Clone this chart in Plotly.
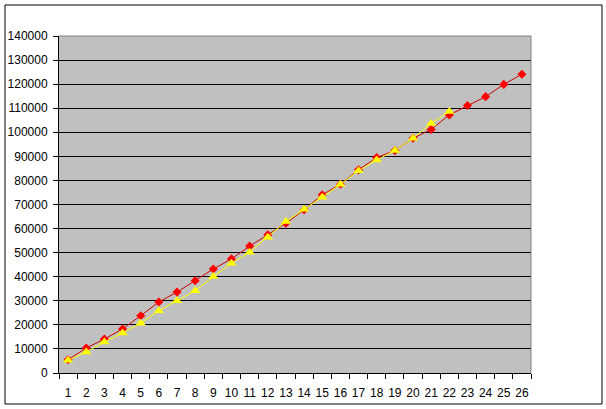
import plotly.graph_objects as go

categories = [str(i) for i in range(1, 27)]
red_values = [5500, 10400, 14100, 18300, 23800, 29500, 33600, 38300, 43200, 47400,
              52700, 57400, 62200, 67800, 74000, 78400, 84400, 89500, 92400, 97500,
              101200, 107200, 111100, 114800, 119900, 124100]
yellow_values = [5300, 8700, 12900, 16600, 20700, 25900, 30000, 34200, 40100, 45600,
                 50200, 56400, 62900, 68000, 73000, 78400, 84000, 88500, 92400, 97500,
                 103700, 108600]
y_ticks = list(range(0, 140001, 10000))

fig = go.Figure()
fig.add_trace(go.Scatter(
    x=categories, y=red_values, mode="lines+markers",
    line=dict(color="#CC0000", width=1),
    marker=dict(symbol="diamond", size=7, color="#FF0000"),
    showlegend=False))
fig.add_trace(go.Scatter(
    x=categories[:len(yellow_values)], y=yellow_values, mode="lines+markers",
    line=dict(color="#FFFF00", width=1),
    marker=dict(symbol="triangle-up", size=9, color="#FFFF00"),
    showlegend=False))

fig.update_layout(
    width=606, height=409,
    margin=dict(l=59, r=75, t=36, b=36, autoexpand=False),
    paper_bgcolor="white", plot_bgcolor="#C0C0C0",
    font=dict(family="Liberation Sans, Arial, sans-serif", size=12, color="black"),
    xaxis=dict(type="category", range=[-0.5, len(categories) - 0.5],
               tickson="boundaries", ticks="outside", ticklen=5,
               tickcolor="black", showline=True, linecolor="black", linewidth=1,
               showgrid=False, zeroline=False, tickangle=0, automargin=False,
               ticklabelstandoff=9),
    yaxis=dict(range=[0, 140000], tickvals=y_ticks, ticktext=[str(v) for v in y_ticks],
               ticks="outside", ticklen=5, tickcolor="black", automargin=False,
               showline=True, linecolor="black", linewidth=1, ticklabelstandoff=3,
               showgrid=True, gridcolor="black", gridwidth=1, zeroline=False),
    shapes=[
        dict(type="line", xref="paper", yref="paper", x0=0, x1=1, y0=1, y1=1,
             line=dict(color="#808080", width=1)),
        dict(type="line", xref="paper", yref="paper", x0=1, x1=1, y0=0, y1=1,
             line=dict(color="#808080", width=1)),
        dict(type="rect", xref="paper", yref="paper",
             x0=-0.1144, x1=1.1504, y0=-0.092, y1=1.092,
             line=dict(color="black", width=1)),
    ],
)

fig.write_html("out.html", config={"displayModeBar": False},
               post_script="document.body.style.margin='0';")
